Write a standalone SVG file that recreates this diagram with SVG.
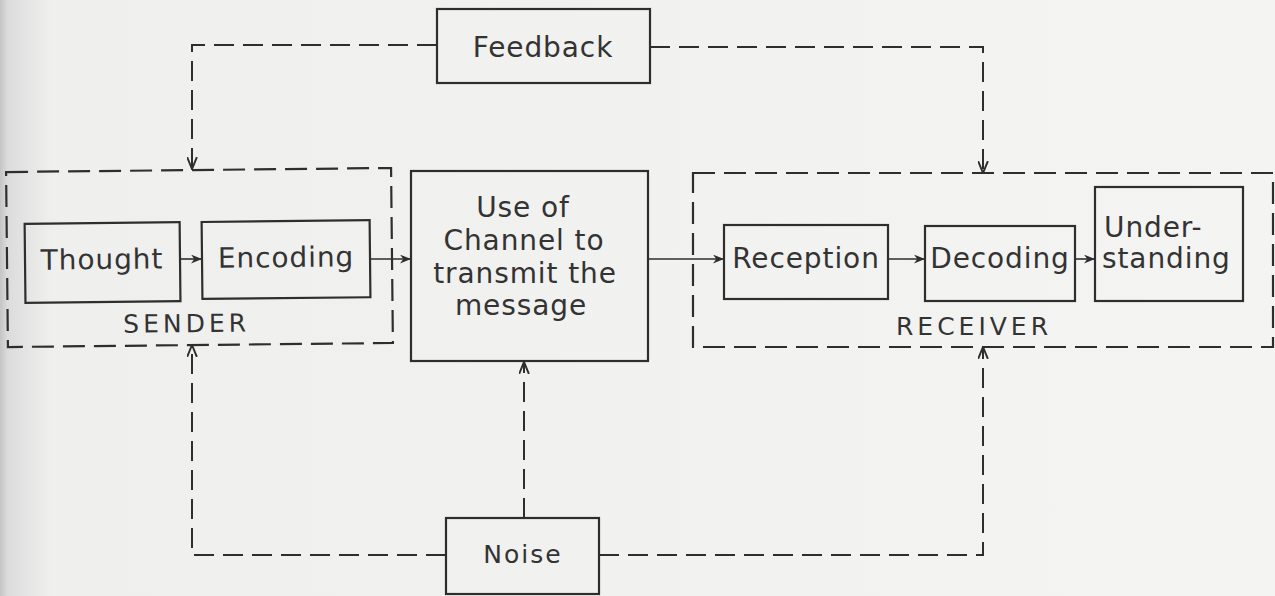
<svg xmlns="http://www.w3.org/2000/svg" width="1275" height="596" viewBox="0 0 1275 596">
  <defs>
    <linearGradient id="paper" x1="0" y1="0" x2="1" y2="0">
      <stop offset="0" stop-color="#c4c4c4"/>
      <stop offset="0.006" stop-color="#dcdcdc"/>
      <stop offset="0.04" stop-color="#efefee"/>
      <stop offset="1" stop-color="#f4f4f3"/>
    </linearGradient>
    <marker id="arrow" viewBox="0 0 10 8" markerWidth="11" markerHeight="9" refX="10" refY="4" orient="auto" markerUnits="userSpaceOnUse">
      <path d="M0,0 L10,4 L0,8 L3,4 z" fill="#2e2e2e"/>
    </marker>
    <marker id="chevron" viewBox="0 0 12 10" markerWidth="13" markerHeight="11" refX="11" refY="5" orient="auto" markerUnits="userSpaceOnUse">
      <path d="M0,0.5 L11,5 L0,9.5" fill="none" stroke="#2e2e2e" stroke-width="1.8"/>
    </marker>
    <style>
      .box { fill: none; stroke: #2e2e2e; stroke-width: 2.2; }
      .group { fill: none; stroke: #2e2e2e; stroke-width: 2.2; stroke-dasharray: 22 9; }
      .flow { fill: none; stroke: #2e2e2e; stroke-width: 1.6; marker-end: url(#arrow); }
      .dash { fill: none; stroke: #2e2e2e; stroke-width: 2; stroke-dasharray: 20 9; marker-end: url(#chevron); }
      .label { font-family: "DejaVu Sans", "Liberation Sans", sans-serif; font-size: 28px; fill: #333; letter-spacing: 0.9px; }
      .mid { text-anchor: middle; }
      .caps { font-size: 25px; letter-spacing: 4px; }
    </style>
  </defs>

  <rect x="0" y="0" width="1275" height="596" fill="url(#paper)"/>

  <!-- connectors -->
  <g id="connectors">
    <path class="flow" d="M180,259 L202,259"/>
    <path class="flow" d="M370,259 L411,259"/>
    <path class="flow" d="M648,259 L724,259"/>
    <path class="flow" d="M888,259 L925,259"/>
    <path class="flow" d="M1075,259 L1095,259"/>
    <path class="dash" d="M437,45 H192 V169"/>
    <path class="dash" d="M650,47 H983 V173"/>
    <path class="dash" d="M524,518 V362"/>
    <path class="dash" d="M446,555 H192 V345"/>
    <path class="dash" d="M599,555 H983 V347"/>
  </g>

  <!-- feedback -->
  <g id="feedback">
    <rect class="box" x="437" y="9" width="213" height="74"/>
    <text class="label mid" x="543" y="57">Feedback</text>
  </g>

  <!-- sender side -->
  <g id="sender" transform="rotate(-0.6 200 258)">
    <rect class="group" x="7" y="170" width="385" height="175"/>
    <text class="label mid caps" x="186" y="332">SENDER</text>
    <g id="thought">
      <rect class="box" x="25" y="222" width="155" height="79"/>
      <text class="label mid" x="102" y="268">Thought</text>
    </g>
    <g id="encoding">
      <rect class="box" x="202" y="222" width="168" height="77"/>
      <text class="label mid" x="286" y="268">Encoding</text>
    </g>
  </g>

  <!-- channel -->
  <g id="channel">
    <rect class="box" x="411" y="171" width="237" height="190"/>
    <text class="label mid" x="523" y="217">Use of</text>
    <text class="label mid" x="524" y="250">Channel to</text>
    <text class="label mid" x="525" y="283">transmit the</text>
    <text class="label mid" x="521" y="315">message</text>
  </g>

  <!-- receiver side -->
  <g id="receiver">
    <rect class="group" x="693" y="173" width="580" height="174"/>
    <text class="label mid caps" x="974" y="335">RECEIVER</text>
    <g id="reception">
      <rect class="box" x="724" y="225" width="164" height="74"/>
      <text class="label mid" x="806" y="268">Reception</text>
    </g>
    <g id="decoding">
      <rect class="box" x="925" y="226" width="150" height="75"/>
      <text class="label mid" x="1000" y="268">Decoding</text>
    </g>
    <g id="understanding">
      <rect class="box" x="1095" y="187" width="148" height="114"/>
      <text class="label" x="1104" y="237">Under-</text>
      <text class="label" x="1102" y="268">standing</text>
    </g>
  </g>

  <!-- noise -->
  <g id="noise">
    <rect class="box" x="446" y="518" width="153" height="76"/>
    <text class="label mid" x="523" y="563" style="font-size:25px;letter-spacing:2px">Noise</text>
  </g>
</svg>
